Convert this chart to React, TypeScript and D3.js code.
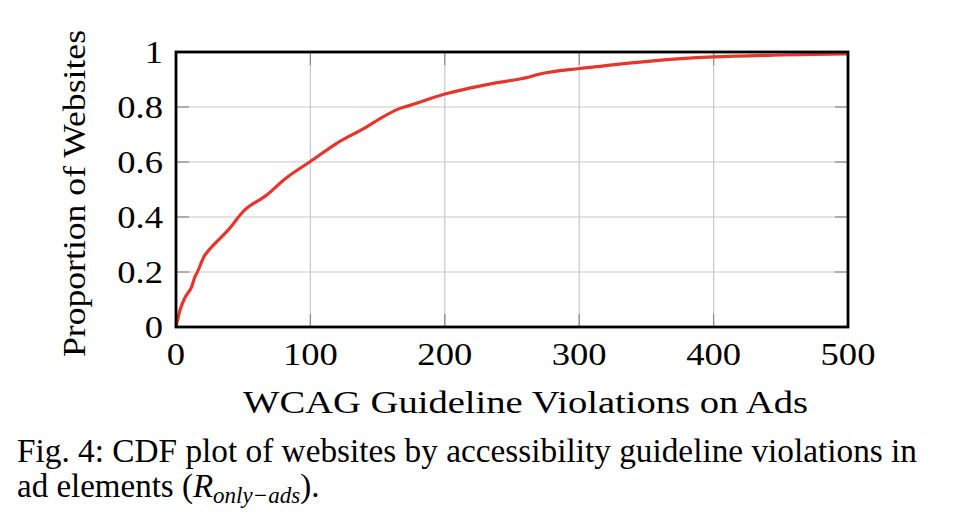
import React from "react";
import * as d3 from "d3";

const violations = [0, 3, 6.7, 11.7, 14.1, 15.4, 21.6, 22.8, 27.8, 30.3, 38.9, 50, 67.5, 81, 99.7, 119.6, 141.9, 151.8, 166.7, 174, 200, 236, 262, 270, 300.6, 315.5, 330, 355, 399.8, 450, 500];
const proportion = [0, 0.062, 0.107, 0.147, 0.183, 0.195, 0.262, 0.27, 0.298, 0.31, 0.353, 0.42, 0.48, 0.538, 0.601, 0.668, 0.728, 0.758, 0.795, 0.806, 0.847, 0.886, 0.908, 0.919, 0.94, 0.948, 0.956, 0.968, 0.982, 0.989, 0.993];
const xTicks = [0, 100, 200, 300, 400, 500];
const yTicks = [0, 0.2, 0.4, 0.6, 0.8, 1];
const yTickLabels = ["0", "0.2", "0.4", "0.6", "0.8", "1"];

const W = 962, H = 516;
const L = 176, R = 848, T = 52, B = 327;
const SX = 1.18;

export default function App() {
  const x = d3.scaleLinear().domain([0, 500]).range([L, R]);
  const y = d3.scaleLinear().domain([0, 1]).range([B, T]);
  const pts: [number, number][] = violations.map((v, i) => [v, proportion[i]]);
  const line = d3.line<[number, number]>().x(d => x(d[0])).y(d => y(d[1])).curve(d3.curveMonotoneX);
  const font = "'Liberation Serif', serif";
  return (
    <svg width={W} height={H} style={{ position: "absolute", left: 0, top: 0, background: "#fff" }} fontFamily={font}>
      <rect x={0} y={0} width={W} height={H} fill="#fff" />
      {xTicks.slice(1, -1).map(t => (
        <line key={"gx" + t} x1={x(t)} x2={x(t)} y1={T} y2={B} stroke="#c9c9c9" strokeWidth={1.2} />
      ))}
      {yTicks.slice(1, -1).map(t => (
        <line key={"gy" + t} x1={L} x2={R} y1={y(t)} y2={y(t)} stroke="#c9c9c9" strokeWidth={1.2} />
      ))}
      {xTicks.slice(1, -1).map(t => (
        <g key={"tx" + t}>
          <line x1={x(t)} x2={x(t)} y1={B} y2={B - 13} stroke="#8a8a8a" strokeWidth={1.2} />
          <line x1={x(t)} x2={x(t)} y1={T} y2={T + 13} stroke="#8a8a8a" strokeWidth={1.2} />
        </g>
      ))}
      {yTicks.slice(1, -1).map(t => (
        <g key={"ty" + t}>
          <line x1={L} x2={L + 13} y1={y(t)} y2={y(t)} stroke="#8a8a8a" strokeWidth={1.2} />
          <line x1={R} x2={R - 13} y1={y(t)} y2={y(t)} stroke="#8a8a8a" strokeWidth={1.2} />
        </g>
      ))}
      <path d={line(pts) || ""} fill="none" stroke="#e8352b" strokeWidth={3.2} strokeLinejoin="round" />
      <rect x={L} y={T} width={R - L} height={B - T} fill="none" stroke="#000" strokeWidth={2.8} />
      {xTicks.map(t => (
        <text key={"lx" + t} transform={`translate(${x(t)},365) scale(${SX},1)`} textAnchor="middle" fontSize={31}>{t}</text>
      ))}
      {yTicks.map((t, i) => (
        <text key={"ly" + t} transform={`translate(163,${y(t) + 10.5}) scale(${SX},1)`} textAnchor="end" fontSize={31}>{yTickLabels[i]}</text>
      ))}
      <text transform={`translate(243,413) scale(${SX},1)`} fontSize={31} textLength={565 / SX} lengthAdjust="spacingAndGlyphs">WCAG Guideline Violations on Ads</text>
      <text transform={`translate(85,357) rotate(-90)`} fontSize={32} textLength={327} lengthAdjust="spacingAndGlyphs">Proportion of Websites</text>
      <text x={17} y={462} fontSize={33} textLength={900} lengthAdjust="spacingAndGlyphs">Fig. 4: CDF plot of websites by accessibility guideline violations in</text>
      <text x={17} y={497} fontSize={33}>ad elements (<tspan fontStyle="italic">R</tspan><tspan fontStyle="italic" fontSize={23} dy={6}>only−ads</tspan><tspan dy={-6}>).</tspan></text>
    </svg>
  );
}
